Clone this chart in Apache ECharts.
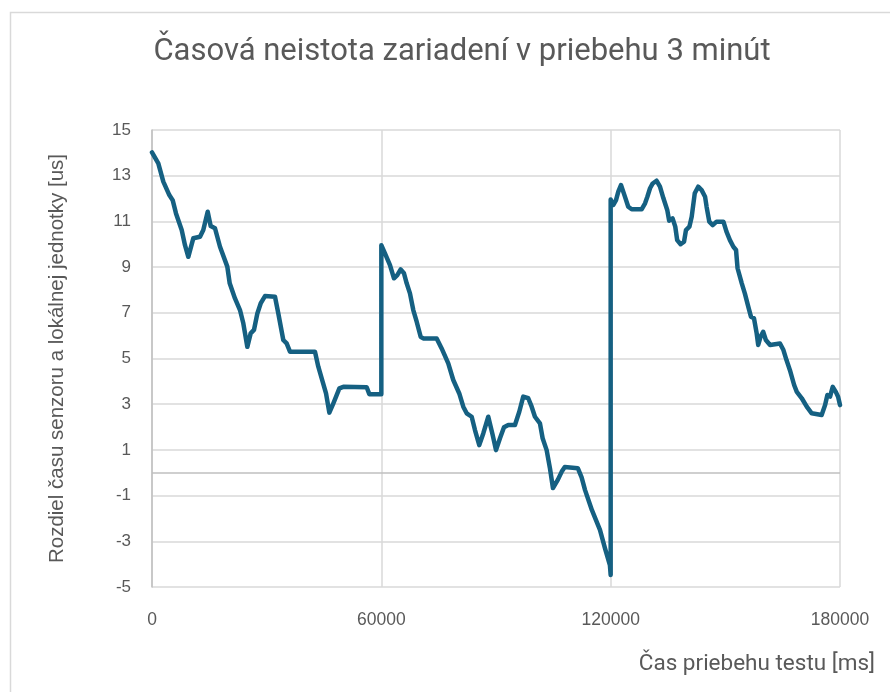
<!DOCTYPE html>
<html>
<head>
<meta charset="utf-8">
<script src="https://cdn.jsdelivr.net/npm/echarts@6/dist/echarts.min.js"></script>
<style>
html,body{margin:0;padding:0;background:#fff;}
#chart{width:890px;height:692px;}
</style>
</head>
<body>
<div id="chart"></div>
<script>
// ---- data ----
const chartTitle = 'Časová neistota zariadení v priebehu 3 minút';
const xAxisTitle = 'Čas priebehu testu [ms]';
const yAxisTitle = 'Rozdiel času senzoru a lokálnej jednotky [us]';
const xTicks = [0, 60000, 120000, 180000];
const yTicks = [-5, -3, -1, 1, 3, 5, 7, 9, 11, 13, 15];

const timeMs = [
  0, 1650, 2960, 4530, 5410, 6280, 7770, 8630, 9500, 10800, 12560, 13420, 14570, 15350, 16480, 17790, 19700,
  20330, 21710, 23020, 23890, 24940, 25810, 26680, 27560, 28430, 29560, 32180, 33050, 34350, 35230, 36100,
  42640, 43510, 44660, 45530, 46400, 47450, 49020, 50070, 56170, 56860, 60000,
  60000, 60950, 62260, 63310, 64170, 65060, 65920, 66630, 67490, 68360, 69250, 70290, 70970, 74480, 75780,
  77510, 78820, 80390, 81440, 82330, 83640, 84500, 85620, 86670, 87980, 89130, 90000, 91040, 92090, 93210,
  94960, 96090, 97130, 98440, 99330, 100190, 101500, 102200, 103250, 104120, 104900, 106200, 107200, 108000,
  111400, 112400, 113300, 115100, 117200, 118500, 119800, 120000,
  120000, 120700, 121400, 122000, 122700, 123600, 124600, 125500, 128100, 129000, 129600, 130300, 131000,
  132000, 132900, 133800, 134800, 135300, 136200, 136900, 137400, 138300, 139200, 139700, 140600, 141200,
  142000, 142900, 143800, 144700, 145100, 145800, 146700, 147700, 149500, 150300, 151200, 152100, 152800,
  153200, 154300, 155100, 156000, 156700, 157500, 158200, 158600, 159200, 159900, 160600, 161700, 164300,
  165200, 166000, 166900, 168000, 168700, 170000, 171300, 172600, 175200, 176100, 176700, 177400, 178100,
  178900, 179500, 180000
];
const diffUs = [
  14.02, 13.54, 12.74, 12.15, 11.93, 11.35, 10.62, 9.96, 9.45, 10.26, 10.33, 10.62, 11.42, 10.80, 10.70, 9.89, 9.02,
  8.29, 7.63, 7.12, 6.54, 5.51, 6.10, 6.25, 6.97, 7.41, 7.73, 7.70, 6.97, 5.81, 5.66, 5.30,
  5.30, 4.64, 3.98, 3.47, 2.63, 3.04, 3.69, 3.76, 3.74, 3.44, 3.44,
  9.96, 9.60, 9.09, 8.51, 8.65, 8.90, 8.73, 8.29, 7.85, 7.12, 6.61, 5.95, 5.88, 5.88, 5.44,
  4.79, 4.06, 3.47, 2.89, 2.60, 2.45, 1.87, 1.21, 1.72, 2.45, 1.65, 0.99, 1.51, 1.99, 2.09,
  2.09, 2.67, 3.33, 3.26, 2.89, 2.45, 2.16, 1.51, 0.99, 0.19, -0.67, -0.30, 0.05, 0.25,
  0.20, -0.20, -0.76, -1.64, -2.50, -3.30, -4.04, -4.48,
  11.96, 11.72, 11.93, 12.30, 12.59, 12.15, 11.64, 11.53, 11.53, 11.79, 12.08, 12.45, 12.66,
  12.78, 12.52, 12.01, 11.50, 11.03, 11.13, 10.77, 10.18, 10.00, 10.11, 10.62, 10.77, 11.20,
  12.23, 12.52, 12.37, 12.08, 11.64, 10.99, 10.84, 10.99, 10.99, 10.55, 10.18, 9.89, 9.75,
  8.95, 8.29, 7.85, 7.27, 6.83, 6.76, 6.10, 5.59, 5.95, 6.17, 5.81, 5.59, 5.66,
  5.37, 4.93, 4.49, 3.84, 3.54, 3.26, 2.89, 2.60, 2.53, 2.96, 3.40, 3.33, 3.76,
  3.54, 3.33, 2.96
];

const seriesData = timeMs.map((t, i) => [t, diffUs[i]]);

const textColor = '#595959';
const chart = echarts.init(document.getElementById('chart'), null, {renderer: 'canvas'});
chart.setOption({
  backgroundColor: '#ffffff',
  animation: false,
  title: {
    text: chartTitle,
    left: 457,
    top: 32,
    textAlign: 'center',
    textStyle: {fontFamily: 'Roboto', fontSize: 31, fontWeight: 'normal', color: textColor}
  },
  graphic: [{
    type: 'rect',
    shape: {x: 10.5, y: 12.5, width: 1000, height: 1000},
    style: {fill: 'none', stroke: '#d9d9d9', lineWidth: 1.5},
    silent: true, z: -1
  }],
  grid: {left: 152, right: 50, top: 130, bottom: 105, containLabel: false},
  xAxis: {
    type: 'value',
    min: xTicks[0], max: xTicks[xTicks.length - 1], interval: 60000,
    name: xAxisTitle,
    nameLocation: 'end',
    nameGap: 35,
    nameTextStyle: {fontFamily: 'Roboto', fontSize: 22.5, color: textColor, align: 'right', verticalAlign: 'top', padding: [66, 0, 0, 0]},
    axisLine: {show: false, onZero: false},
    axisTick: {show: false},
    axisLabel: {fontFamily: 'Liberation Sans', fontSize: 17.5, color: textColor, margin: 24, formatter: v => String(v)},
    splitLine: {show: true, lineStyle: {color: '#d9d9d9', width: 1.5}}
  },
  yAxis: {
    type: 'value',
    min: yTicks[0], max: yTicks[yTicks.length - 1], interval: 2,
    name: yAxisTitle,
    nameLocation: 'middle',
    nameGap: 84,
    nameRotate: 90,
    nameTextStyle: {fontFamily: 'Liberation Sans', fontSize: 20.5, color: textColor},
    axisLine: {show: true, lineStyle: {color: '#bfbfbf', width: 1.5}},
    axisTick: {show: false},
    axisLabel: {fontFamily: 'Liberation Sans', fontSize: 17, color: textColor, margin: 21},
    splitLine: {show: true, lineStyle: {color: '#d9d9d9', width: 1.5}}
  },
  series: [{
    type: 'line',
    data: seriesData,
    showSymbol: false,
    symbol: 'none',
    lineStyle: {color: '#156082', width: 4.5, cap: 'round', join: 'round'},
    itemStyle: {color: '#156082'},
    markLine: {
      silent: true,
      symbol: 'none',
      label: {show: false},
      lineStyle: {color: '#bfbfbf', width: 1.5, type: 'solid'},
      data: [{yAxis: 0}],
      z: 1
    },
    z: 3
  }]
});
</script>
</body>
</html>
